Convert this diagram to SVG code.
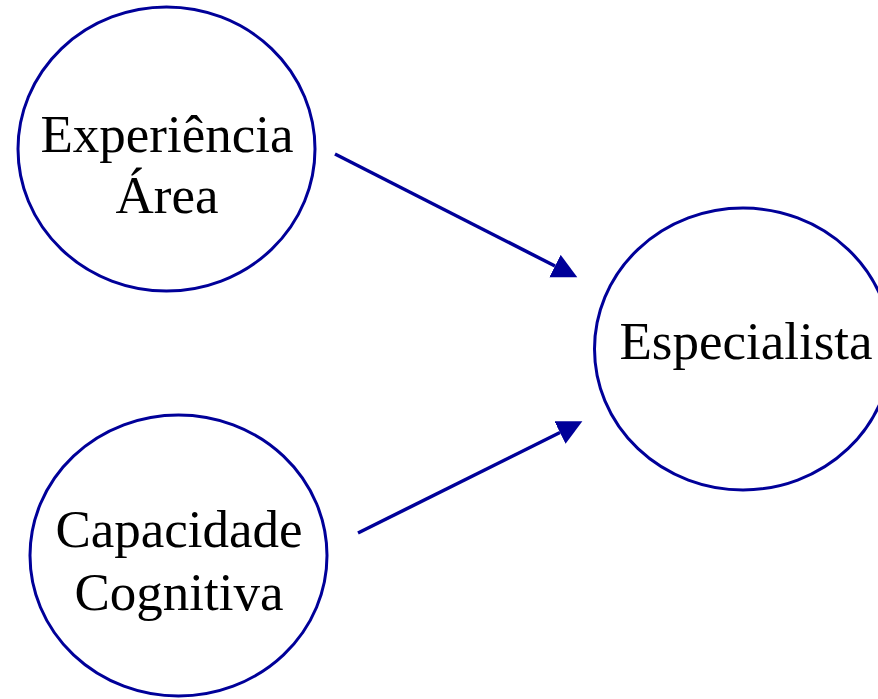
<svg xmlns="http://www.w3.org/2000/svg" width="878" height="699" viewBox="0 0 878 699">
<style>
.node{fill:#fff;stroke:#000099;stroke-width:3}
.lbl{font-family:"Liberation Serif","Times New Roman",serif;font-size:53px;fill:#000;text-anchor:middle}
.edge{stroke:#000099;stroke-width:3.5;fill:none}
</style>
<defs>
<marker id="ah" markerUnits="userSpaceOnUse" markerWidth="26" markerHeight="26" refX="0" refY="12.5" orient="auto">
<path d="M0,0 L25,12.5 L0,25 z" fill="#000099"/>
</marker>
</defs>
<rect width="878" height="699" fill="#fff"/>
<g id="experiencia">
<ellipse class="node" cx="166.5" cy="149" rx="148.5" ry="142"/>
<text class="lbl" x="167" y="152">Experiência</text>
<text class="lbl" x="167" y="213">Área</text>
</g>
<g id="capacidade">
<ellipse class="node" cx="178.5" cy="555.5" rx="148.5" ry="140.5"/>
<text class="lbl" x="179" y="547">Capacidade</text>
<text class="lbl" x="179" y="610">Cognitiva</text>
</g>
<g id="especialista">
<ellipse class="node" cx="743" cy="349" rx="148.5" ry="141"/>
<text class="lbl" x="746" y="359">Especialista</text>
</g>
<g id="connectors">
<line class="edge" x1="335" y1="154" x2="555" y2="266" marker-end="url(#ah)"/>
<line class="edge" x1="358" y1="533" x2="560" y2="432.5" marker-end="url(#ah)"/>
</g>
</svg>
